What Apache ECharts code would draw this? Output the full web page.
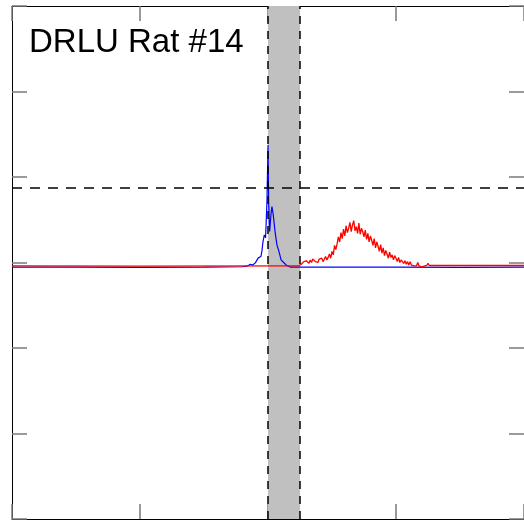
<!DOCTYPE html>
<html>
<head>
<meta charset="utf-8">
<script src="https://cdn.jsdelivr.net/npm/echarts@6/dist/echarts.min.js"></script>
<style>
  html, body { margin: 0; padding: 0; background: #ffffff; }
  #chart { width: 524px; height: 521px; }
</style>
</head>
<body>
<div id="chart"></div>
<script>
// Panel label
const panelTitle = 'DRLU Rat #14';

// Axis ranges (no tick labels are drawn, only tick marks)
const xRange = [0, 400];
const xStep = 100;
const yRange = [-3, 3];
const yStep = 1;

// Shaded stimulation window and the dashed threshold level
const bandRange = [200, 225];
const thresholdLevel = 0.873;

// Blue trace: brief spike at the start of the window
const blueX = [0, 50, 100, 150, 180, 184, 186.2, 188, 190.1, 191, 192.4, 193.5, 194.5, 195.3,
  196.1, 197.1, 198.1, 199.2, 200, 200.5, 201.3, 202.4, 203.1, 204.1, 205.5, 207, 208.6,
  210.2, 212.2, 214.8, 217.4, 250, 300, 350, 400];
const blueY = [-0.055, -0.053, -0.056, -0.053, -0.05, -0.04, -0.02, -0.03, -0.004, -0.01,
  0.054, 0.05, 0.07, 0.14, 0.245, 0.323, 0.288, 0.712, 1.375, 0.712, 0.362, 0.577, 0.654,
  0.557, 0.362, 0.206, 0.128, 0.031, 0.0, -0.036, -0.053, -0.055, -0.053, -0.056, -0.055];

// Red trace: flat before the window, broad noisy response after it
const redBaseX = [0, 100, 224];
const redBaseY = [-0.04, -0.042, -0.04];
const redHumpStart = 225; // samples at unit spacing from here
const redHumpY = [
  -0.04, -0.02, -0.03, 0.01, -0.01, 0.02, 0.01, -0.01, 0.03, 0.0, 0.04, 0.02, 0.01, 0.03, 0.0,
  0.04, 0.02, 0.05, 0.01, 0.03, 0.07,
  0.03, 0.06, 0.10, 0.05, 0.13, 0.09, 0.20, 0.15, 0.22, 0.30, 0.24, 0.35, 0.28, 0.39, 0.31,
  0.43, 0.35, 0.40, 0.47, 0.36, 0.44, 0.49, 0.37, 0.42, 0.34, 0.46, 0.33, 0.40, 0.36, 0.30,
  0.38, 0.27, 0.34, 0.24, 0.31, 0.26, 0.20, 0.28, 0.17, 0.24, 0.19, 0.13, 0.21, 0.11, 0.17,
  0.08, 0.14, 0.10, 0.05, 0.12, 0.06, 0.09, 0.03, 0.08, 0.05, 0.01, 0.06, 0.0, 0.03, 0.04,
  -0.01, 0.02, -0.02, 0.01, -0.03, 0.01, -0.03, -0.01, -0.04, -0.02, -0.04, 0.0, -0.04, -0.03, -0.05
];
const redTailX = [321, 324, 325, 326, 332, 333, 334, 338, 338.5, 339, 341.5, 342, 342.5, 354.5,
  355, 355.5, 357.5, 358, 358.5, 362.5, 363, 363.5, 378.5, 379, 379.5, 400];
const redTailY = [-0.04, -0.035, -0.01, -0.035, -0.035, -0.015, -0.035, -0.035, -0.02, -0.035,
  -0.035, -0.015, -0.035, -0.035, -0.015, -0.035, -0.035, -0.02, -0.035, -0.035, -0.02, -0.035,
  -0.035, -0.015, -0.035, -0.035];

const zip = (xs, ys) => xs.map((x, i) => [x, ys[i]]);
const blueData = zip(blueX, blueY);
const redData = zip(redBaseX, redBaseY)
  .concat(redHumpY.map((y, i) => [redHumpStart + i, y]))
  .concat(zip(redTailX, redTailY));

const tickStyle = { show: true, inside: true, length: 15, lineStyle: { color: '#7a7a7a', width: 1.5 } };
const lineStyle = { show: true, onZero: false, lineStyle: { color: '#000000', width: 1 } };

function xAxisDef(position) {
  return {
    type: 'value', position: position, min: xRange[0], max: xRange[1], interval: xStep,
    axisLine: lineStyle, axisTick: tickStyle, axisLabel: { show: false }, splitLine: { show: false }
  };
}
function yAxisDef(position) {
  return {
    type: 'value', position: position, min: yRange[0], max: yRange[1], interval: yStep,
    axisLine: lineStyle, axisTick: tickStyle, axisLabel: { show: false }, splitLine: { show: false }
  };
}

const chart = echarts.init(document.getElementById('chart'), null, { renderer: 'canvas' });
chart.setOption({
  animation: false,
  backgroundColor: '#ffffff',
  grid: { left: 12, right: 0, top: 6, bottom: 2 },
  xAxis: [xAxisDef('bottom'), xAxisDef('top')],
  yAxis: [yAxisDef('left'), yAxisDef('right')],
  graphic: [{
    type: 'text', left: 29, top: 26, z: 10,
    style: { text: panelTitle, font: '33px "Liberation Sans", Arial, sans-serif', fill: '#000000' }
  }],
  series: [
    {
      type: 'line', data: [], z: 1, silent: true,
      markArea: {
        silent: true,
        itemStyle: { color: '#c0c0c0' },
        data: [[{ xAxis: bandRange[0] }, { xAxis: bandRange[1] }]]
      }
    },
    {
      type: 'line', data: [], z: 2, silent: true,
      markLine: {
        silent: true, symbol: 'none', label: { show: false },
        data: [
          { xAxis: bandRange[0], lineStyle: { type: [8, 7] } },
          { xAxis: bandRange[1], lineStyle: { type: [8, 7] } },
          { yAxis: thresholdLevel, lineStyle: { type: [10, 8] } }
        ],
        lineStyle: { color: '#000000', width: 1.5 }
      }
    },
    {
      type: 'line', data: blueData, z: 3, showSymbol: false, symbol: 'none',
      lineStyle: { color: '#0000ff', width: 1.2 }
    },
    {
      type: 'line', data: redData, z: 4, showSymbol: false, symbol: 'none',
      lineStyle: { color: '#ff0000', width: 1.3 }
    }
  ]
});
</script>
</body>
</html>
